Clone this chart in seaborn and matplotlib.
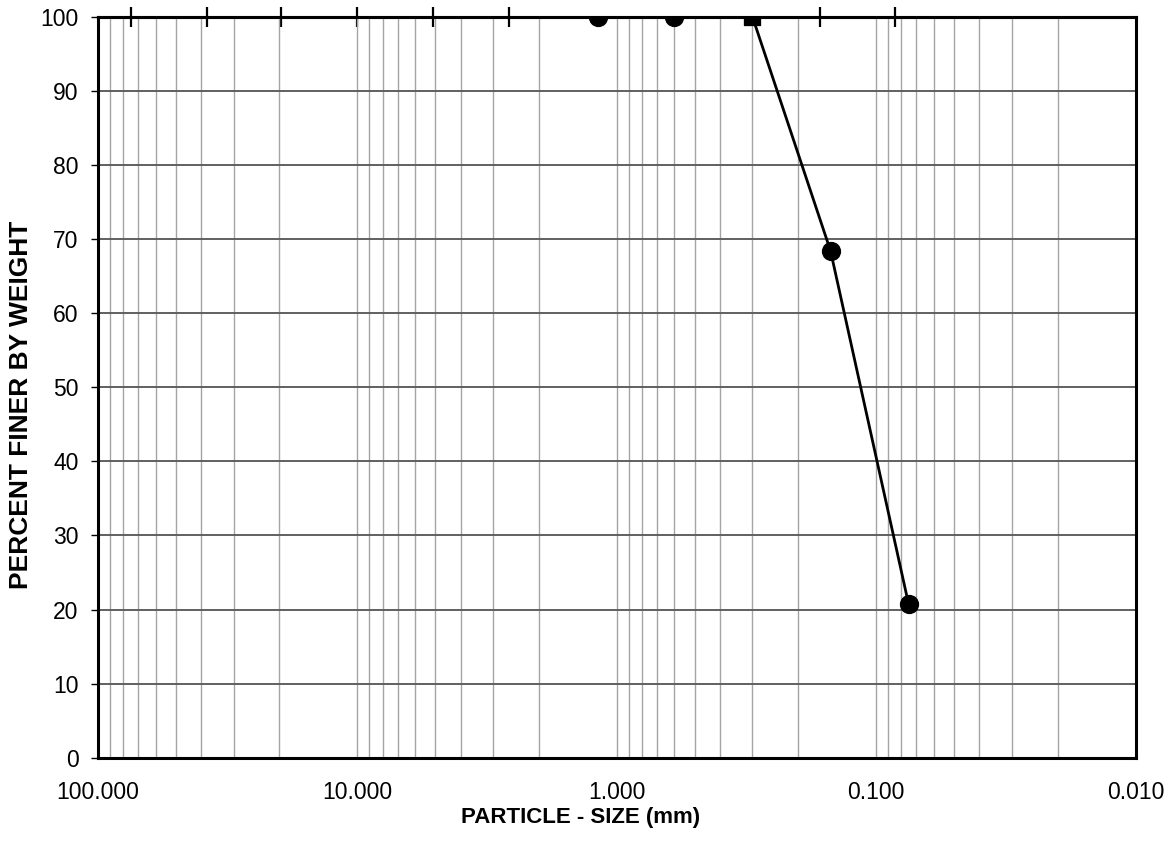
import numpy as np
import pandas as pd
import matplotlib
matplotlib.use("Agg")
import matplotlib.pyplot as plt
import seaborn as sns
from matplotlib.ticker import FixedLocator, LogLocator, FuncFormatter, NullLocator, NullFormatter

sns.set_theme(style="white")
plt.rcParams['font.family'] = ['Liberation Sans', 'DejaVu Sans']

# sieve results
sieve_mm = [1.18, 0.60, 0.30, 0.15, 0.075]
percent_finer = [100, 100, 100, 68.4, 20.7]

# axis ticks
x_major_mm = [100, 10, 1, 0.1, 0.01]
y_ticks = list(range(0, 101, 10))
# short crossing ticks along the top border
top_tick_mm = [74.6, 38.0, 19.7, 10.0, 5.1, 2.6, 0.165, 0.085]

df = pd.DataFrame({'size_mm': sieve_mm, 'finer': percent_finer})

fig, ax = plt.subplots(figsize=(11.72, 8.41), dpi=100)
fig.subplots_adjust(left=0.0836, right=0.969, top=0.98, bottom=0.099)

ax.set_xscale('log')

# grading curve
sns.lineplot(data=df, x='size_mm', y='finer', color='black', linewidth=2,
             sort=False, ax=ax, zorder=5)
circles = df.drop(index=2)
squares = df.loc[[2]]
sns.scatterplot(data=circles, x='size_mm', y='finer', color='black', s=165,
                marker='o', edgecolor='black', ax=ax, zorder=6)
sns.scatterplot(data=squares, x='size_mm', y='finer', color='black', s=135,
                marker='s', edgecolor='black', ax=ax, zorder=6)

ax.set_xlim(100, 0.01)
ax.set_ylim(0, 100)

# x axis: decades, labelled with three decimals
ax.xaxis.set_major_locator(FixedLocator(x_major_mm))
ax.xaxis.set_major_formatter(FuncFormatter(lambda v, p: f'{v:.3f}'))
ax.xaxis.set_minor_locator(LogLocator(base=10, subs=np.arange(2, 10)))
ax.xaxis.set_minor_formatter(NullFormatter())
ax.tick_params(axis='x', which='both', bottom=True, length=0, pad=17,
               labelsize=16.5, colors='black')

ax.set_yticks(y_ticks)
ax.tick_params(axis='y', left=True, length=5, width=1, color='black', pad=9,
               labelsize=16.5, labelcolor='black')

# log grid
ax.grid(axis='x', which='both', color='#a4a4a4', linewidth=1.0)
ax.grid(axis='y', which='major', color='#606060', linewidth=1.4)

for side in ['left', 'right', 'top', 'bottom']:
    ax.spines[side].set_visible(True)
    ax.spines[side].set_color('black')
    ax.spines[side].set_linewidth(2.2)

top = ax.secondary_xaxis('top')
top.xaxis.set_major_locator(FixedLocator(top_tick_mm))
top.xaxis.set_minor_locator(NullLocator())
top.tick_params(axis='x', top=True, direction='inout', length=14, width=1.6,
                color='black', labeltop=False)
top.spines['top'].set_linewidth(2.2)

ax.set_xlabel('PARTICLE - SIZE (mm)', fontsize=16, fontweight='bold', color='black')
ax.set_ylabel('PERCENT FINER BY WEIGHT', fontsize=19, fontweight='bold', color='black')
ax.xaxis.set_label_coords(0.465, -0.066)
ax.yaxis.set_label_coords(-0.0625, 0.476)

fig.savefig('out.png', dpi=100)
